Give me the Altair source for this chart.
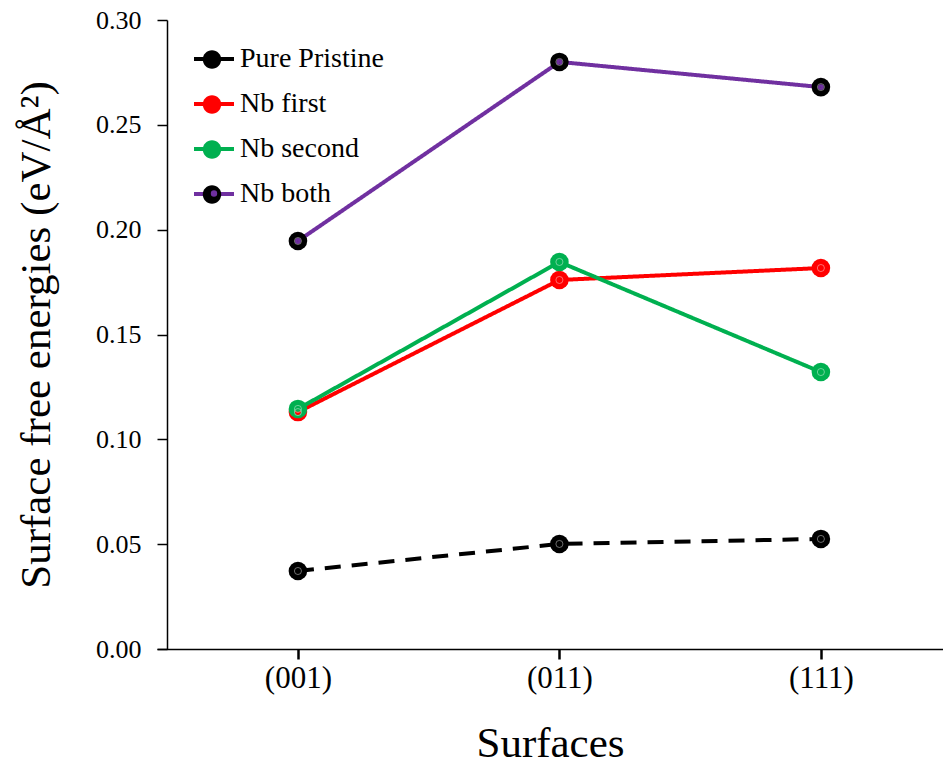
import json
import altair as alt
import pandas as pd

# ---- data ----
SURFACES = ["(001)", "(011)", "(111)"]
SERIES = ["Pure Pristine", "Nb first", "Nb second", "Nb both"]
PURE_PRISTINE = [0.0372, 0.0501, 0.0525]
NB_FIRST = [0.1130, 0.1760, 0.1817]
NB_SECOND = [0.1145, 0.1846, 0.1321]
NB_BOTH = [0.1946, 0.2800, 0.2680]
Y_TICKS = [0.0, 0.05, 0.10, 0.15, 0.20, 0.25, 0.30]

LINE_COLORS = ["#000000", "#ff0000", "#00b050", "#7030a0"]
MARKER_COLORS = ["#000000", "#ff0000", "#00b050", "#000000"]
CENTER_COLORS = ["#000000", "#ff0000", "#00b050", "#7030a0"]
DASHES = [[16, 11], [1, 0], [1, 0], [1, 0]]

FONT = "Liberation Serif"

rows = []
for name, vals in zip(SERIES, [PURE_PRISTINE, NB_FIRST, NB_SECOND, NB_BOTH]):
    for i, (s, v) in enumerate(zip(SURFACES, vals)):
        rows.append({"idx": i, "surface": s, "energy": v, "series": name})
df = pd.DataFrame(rows)
df["s_line"] = df["series"]
df["s_pt"] = df["series"]
df["s_in"] = df["series"]

base = alt.Chart(df)

x_enc = alt.X(
    "idx:Q",
    scale=alt.Scale(domain=[-0.539, 2.467], nice=False, zero=False),
    axis=alt.Axis(
        title="Surfaces", values=list(range(len(SURFACES))),
        labelExpr=json.dumps(SURFACES) + "[datum.value]",
        labelAngle=0, labelFont=FONT, labelFontSize=31,
        labelColor="black", tickSize=10, tickWidth=2.5, tickColor="black",
        domainColor="black", domainWidth=1.5, labelPadding=4,
        titleFont=FONT, titleFontSize=43, titleFontWeight="normal",
        titleColor="black", titlePadding=29, grid=False,
    ),
)
y_enc = alt.Y(
    "energy:Q",
    scale=alt.Scale(domain=[0, 0.30], nice=False, zero=True),
    axis=alt.Axis(
        title="Surface free energies (eV/Å²)", values=Y_TICKS, format=".2f",
        labelFont=FONT, labelFontSize=26, labelColor="black",
        tickSize=10, tickWidth=1.5, tickColor="black",
        domainColor="black", domainWidth=1.5, labelPadding=16,
        titleFont=FONT, titleFontSize=43, titleFontWeight="normal",
        titleColor="black", titlePadding=37, grid=False, offset=-10,
    ),
)

leg_common = dict(
    orient="none", legendX=35, title=None, padding=0,
    labelFont=FONT, labelFontSize=28, labelColor="black",
    labelOffset=4, symbolSize=1600, labelLimit=400,
)
leg_text = dict(legendY=17, rowPadding=9, **leg_common)
leg_circ = dict(legendY=19.5, rowPadding=11, labelExpr="' '", **leg_common)
leg_dot = dict(legendY=19.5, rowPadding=8, labelExpr="' '", **leg_common)

CIRCLE = "M0.46,0A0.46,0.46 0 1,1 -0.46,0A0.46,0.46 0 1,1 0.46,0Z"
DOT = "M0.08,0A0.08,0.08 0 1,1 -0.08,0A0.08,0.08 0 1,1 0.08,0Z"

lines = base.mark_line(strokeWidth=4).encode(
    x=x_enc,
    y=y_enc,
    color=alt.Color(
        "s_line:N", sort=SERIES,
        scale=alt.Scale(range=LINE_COLORS),
        legend=alt.Legend(symbolType="M-1,0L1,0", symbolStrokeWidth=4, **leg_text),
    ),
    strokeDash=alt.StrokeDash(
        "series:N", sort=SERIES, scale=alt.Scale(range=DASHES), legend=None
    ),
)

outer = base.mark_point(filled=True, size=345, opacity=1).encode(
    x=x_enc,
    y=y_enc,
    fill=alt.Fill(
        "s_pt:N", sort=SERIES,
        scale=alt.Scale(range=MARKER_COLORS),
        legend=alt.Legend(symbolType=CIRCLE, symbolStrokeWidth=0, **leg_circ),
    ),
)

inner = base.mark_point(filled=False, size=7, strokeWidth=3.2, opacity=1).encode(
    x=x_enc,
    y=y_enc,
    stroke=alt.Stroke(
        "s_in:N", sort=SERIES,
        scale=alt.Scale(range=CENTER_COLORS),
        legend=alt.Legend(symbolType=DOT, symbolStrokeWidth=3.2, **leg_dot),
    ),
)

ring = base.mark_point(
    filled=False, size=50, strokeWidth=1, color="white", strokeOpacity=0.6
).encode(x=x_enc, y=y_enc)

chart = (
    alt.layer(lines, outer, inner, ring)
    .resolve_scale(color="independent", fill="independent", stroke="independent")
    .properties(
        width=786, height=629,
        autosize=alt.AutoSizeParams(type="none"),
        padding={"left": 157, "top": 20, "right": 0, "bottom": 114},
        background="white",
    )
    .configure(font=FONT)
    .configure_view(strokeWidth=0)
)

chart.save("out.html", embed_options={"renderer": "svg", "actions": False})
